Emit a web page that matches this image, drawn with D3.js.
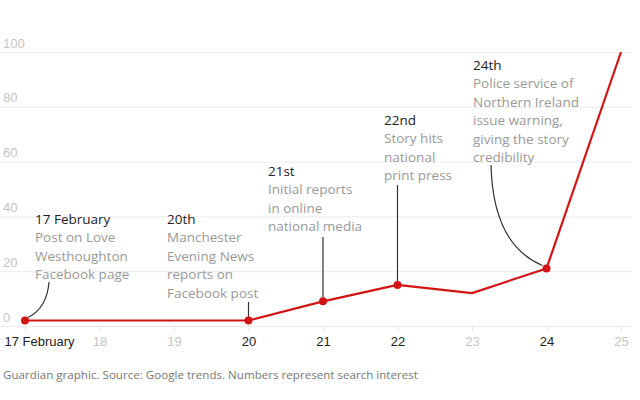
<!DOCTYPE html>
<html><head><meta charset="utf-8">
<script src="https://cdn.jsdelivr.net/npm/d3@7"></script>
<style>
html,body{margin:0;padding:0;background:#fff;}
svg{display:block;font-family:"Open Sans",sans-serif;}
</style></head>
<body><svg id="c" width="640" height="400"></svg>
<script>
const days = [17, 18, 19, 20, 21, 22, 23, 24, 25];
const dayLabels = ["17 February", "18", "19", "20", "21", "22", "23", "24", "25"];
const highlightedDays = [17, 20, 21, 22, 24];
const searchInterest = [2, 2, 2, 2, 9, 15, 12, 21, 100];
const yTicks = [0, 20, 40, 60, 80, 100];
const annotationDays = [17, 20, 21, 22, 24];
const annotationTitles = ["17 February", "20th", "21st", "22nd", "24th"];
const annotationBodies = [
  ["Post on Love", "Westhoughton", "Facebook page"],
  ["Manchester", "Evening News", "reports on", "Facebook post"],
  ["Initial reports", "in online", "national media"],
  ["Story hits", "national", "print press"],
  ["Police service of", "Northern Ireland", "issue warning,", "giving the story", "credibility"]
];
const sourceText = "Guardian graphic. Source: Google trends. Numbers represent search interest";

const svg = d3.select("#c");
const x = d3.scaleLinear().domain([17, 25]).range([25, 621]);
const y = d3.scaleLinear().domain([0, 100]).range([326, 52]);

// gridlines + y labels
const yAxis = d3.axisLeft(y).tickValues(yTicks).tickSize(-632).tickFormat(d3.format("d"));
const gy = svg.append("g").call(yAxis);
gy.select(".domain").remove();
gy.selectAll(".tick line").attr("stroke", "#ececec").attr("stroke-width", 1);
gy.selectAll(".tick text").attr("x", 3).attr("dy", -5).attr("text-anchor", "start")
  .attr("fill", "#c4c4c4").style("font-size", "13px");

// x axis
const xAxis = d3.axisBottom(x).tickValues(days).tickSize(5).tickPadding(6)
  .tickFormat((d, i) => dayLabels[i]);
const gx = svg.append("g").attr("transform", `translate(0,${y(0)})`).call(xAxis);
gx.select(".domain").remove();
gx.selectAll(".tick line").attr("stroke", "#e2e2e2");
gx.selectAll(".tick text")
  .attr("fill", d => highlightedDays.includes(d) ? "#222" : "#c4c4c4")
  .style("font-size", "13px")
  .style("font-weight", d => highlightedDays.includes(d) ? 500 : 400)
  .attr("y", 11).attr("dy", "0.71em");
gx.selectAll(".tick").filter(d => d === 17).select("text")
  .attr("text-anchor", "start").attr("x", -21);

// connectors
const conn = svg.append("g").attr("fill", "none").attr("stroke", "#333").attr("stroke-width", 1.2);
const idx = d => days.indexOf(d);
{
  const px = x(17), py = y(searchInterest[idx(17)]);
  conn.append("path").attr("d", `M49,282 Q47,308 ${px + 3},${py - 3}`);
}
conn.append("line").attr("x1", x(20)).attr("x2", x(20)).attr("y1", 302).attr("y2", y(searchInterest[idx(20)]));
conn.append("line").attr("x1", x(21)).attr("x2", x(21)).attr("y1", 237).attr("y2", y(searchInterest[idx(21)]));
conn.append("line").attr("x1", x(22)).attr("x2", x(22)).attr("y1", 185).attr("y2", y(searchInterest[idx(22)]));
{
  const px = x(24), py = y(searchInterest[idx(24)]);
  conn.append("path").attr("d", `M491,165 Q493,245 ${px - 4},${py - 3}`);
}

// line
const line = d3.line().x((d, i) => x(days[i])).y(d => y(d));
svg.append("path").datum(searchInterest).attr("d", line)
  .attr("fill", "none").attr("stroke", "#d31414").attr("stroke-width", 2.2).attr("stroke-linejoin", "round");

svg.append("g").selectAll("circle").data(highlightedDays).join("circle")
  .attr("cx", d => x(d)).attr("cy", d => y(searchInterest[idx(d)])).attr("r", 4)
  .attr("fill", "#d31414");

// annotations
const annX = [35, 167, 268, 384, 473];
const annY = [224, 224, 176, 125, 70];
const lh = 18.4;
annotationTitles.forEach((t, i) => {
  const g = svg.append("g");
  g.append("text").attr("x", annX[i]).attr("y", annY[i]).text(t)
    .attr("fill", "#222").style("font-size", "13.5px").style("font-weight", 500);
  annotationBodies[i].forEach((l, j) => {
    g.append("text").attr("x", annX[i]).attr("y", annY[i] + lh * (j + 1)).text(l)
      .attr("fill", "#999").style("font-size", "13.5px");
  });
});

svg.append("text").attr("x", 3).attr("y", 379).text(sourceText)
  .attr("fill", "#777").style("font-size", "11.6px");
</script></body></html>
